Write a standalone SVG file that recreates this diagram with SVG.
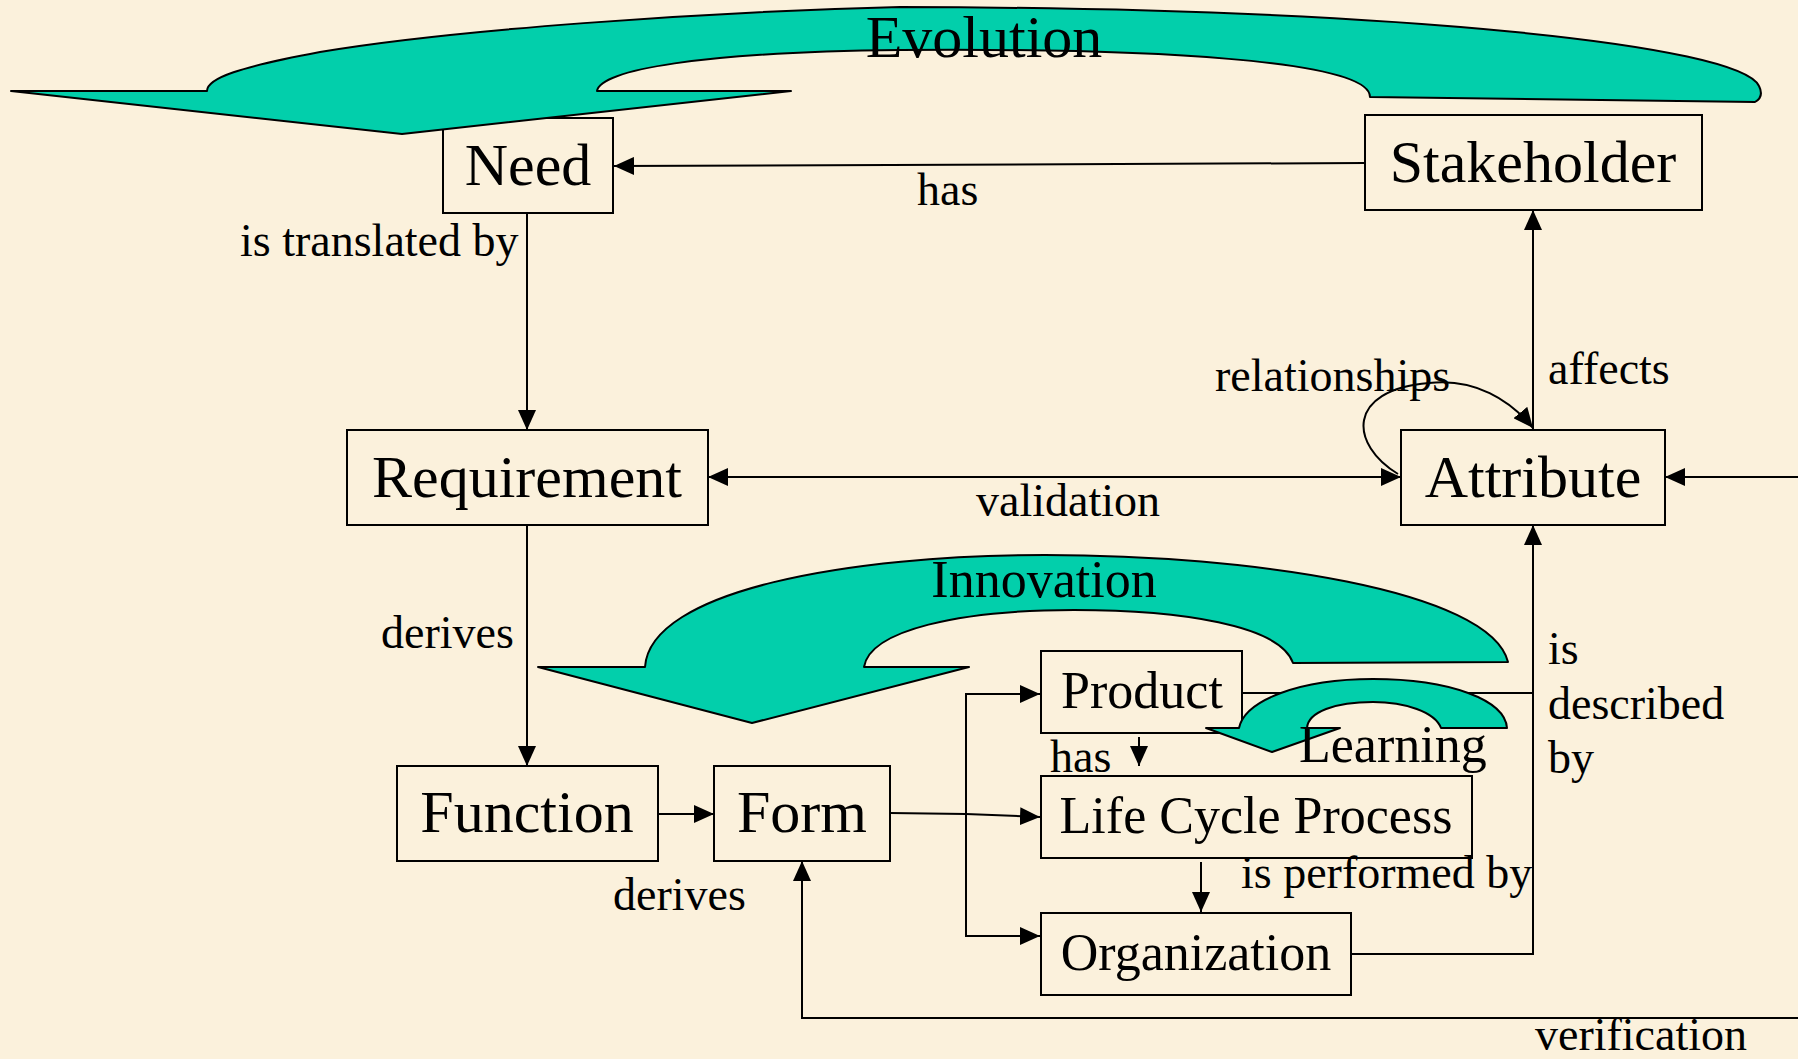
<svg xmlns="http://www.w3.org/2000/svg" width="1798" height="1059" viewBox="0 0 1798 1059">
<style>
.box{fill:none;stroke:#000;stroke-width:2}
.big{font-family:"Liberation Serif","Times New Roman",serif;font-size:60px;fill:#000;text-anchor:middle}
.mid{font-family:"Liberation Serif","Times New Roman",serif;font-size:52px;fill:#000;text-anchor:middle}
.midl{font-family:"Liberation Serif","Times New Roman",serif;font-size:52px;fill:#000;text-anchor:start}
.lbl{font-family:"Liberation Serif","Times New Roman",serif;font-size:46px;fill:#000}
.ln{fill:none;stroke:#000;stroke-width:2}
.arr{marker-end:url(#ah)}
.teal{fill:#02CFAB;stroke:#000;stroke-width:2;stroke-linejoin:round}
</style>
<defs>
<marker id="ah" markerUnits="userSpaceOnUse" markerWidth="20" markerHeight="18" refX="20" refY="9" orient="auto-start-reverse">
<path d="M0,0 L20,9 L0,18 Z" fill="#000"/>
</marker>
</defs>
<rect x="0" y="0" width="1798" height="1059" fill="#FBF1DC"/>

<g id="connectors">
<path class="ln arr" d="M1365,163 L614,166"/>
<path class="ln arr" d="M527,213 L527,430"/>
<path class="ln arr" d="M708,477 L1401,477" marker-start="url(#ah)"/>
<path class="ln arr" d="M1533,430 L1533,210"/>
<path class="ln arr" d="M1398,474 C1350,445 1345,390 1429,383 C1475,378 1510,400 1533,428"/>
<path class="ln arr" d="M527,525 L527,766"/>
<path class="ln arr" d="M658,814 L714,814"/>
<path class="ln arr" d="M890,813 L966,814 L1040,817"/>
<path class="ln arr" d="M1040,694 L966,694 L966,936 L1040,936" marker-start="url(#ah)"/>
<path class="ln arr" d="M1139,737 L1139,766"/>
<path class="ln arr" d="M1201,862 L1201,912"/>
<path class="ln" d="M1242,693 L1533,693"/>
<path class="ln arr" d="M1351,954 L1533,954 L1533,525"/>
<path class="ln arr" d="M1798,1018 L802,1018 L802,861"/>
<path class="ln arr" d="M1798,477 L1665,477"/>
<text class="lbl" x="917" y="205">has</text>
<text class="lbl" x="240" y="256">is translated by</text>
<text class="lbl" x="976" y="516">validation</text>
<text class="lbl" x="1215" y="391">relationships</text>
<text class="lbl" x="1548" y="384">affects</text>
<text class="lbl" x="381" y="648">derives</text>
<text class="lbl" x="613" y="910">derives</text>
<text class="lbl" x="1050" y="772">has</text>
<text class="lbl" x="1241" y="888">is performed by</text>
<text class="lbl" x="1548" y="664">is</text>
<text class="lbl" x="1548" y="719">described</text>
<text class="lbl" x="1548" y="773">by</text>
<text class="lbl" x="1535" y="1050">verification</text>
</g>

<g id="need"><rect class="box" x="443" y="118" width="170" height="95"/><text class="big" x="528" y="185">Need</text></g>
<g id="stakeholder"><rect class="box" x="1365" y="115" width="337" height="95"/><text class="big" x="1533" y="182">Stakeholder</text></g>
<g id="requirement"><rect class="box" x="347" y="430" width="361" height="95"/><text class="big" x="527" y="497">Requirement</text></g>
<g id="attribute"><rect class="box" x="1401" y="430" width="264" height="95"/><text class="big" x="1533" y="497">Attribute</text></g>
<g id="function"><rect class="box" x="397" y="766" width="261" height="95"/><text class="big" x="527" y="832">Function</text></g>
<g id="form"><rect class="box" x="714" y="766" width="176" height="95"/><text class="big" x="802" y="832">Form</text></g>
<g id="product"><rect class="box" x="1041" y="651" width="201" height="82"/><text class="mid" x="1142" y="708">Product</text></g>
<g id="lifecycle"><rect class="box" x="1041" y="776" width="431" height="82"/><text class="mid" x="1256" y="833">Life Cycle Process</text></g>
<g id="organization"><rect class="box" x="1041" y="913" width="310" height="82"/><text class="mid" x="1196" y="970">Organization</text></g>

<g id="evolution">
<path class="teal" d="M1370,97 L1755,102 C1762,98 1762,92 1759,86 C1740,45 1400,8 900,7 C700,12 450,30 320,52 C240,67 207,78 207,91 L11,91 L402,134 L791,91 L597,91 C600,70 700,52 900,50 C1150,48 1370,60 1370,97 Z"/>
<text class="big" x="984" y="57">Evolution</text>
</g>
<g id="innovation">
<path class="teal" d="M645,667 C650,590 850,555 1045,555 C1250,555 1490,590 1508,662 L1293,663 C1280,625 1180,610 1074,610 C960,610 870,630 864,667 L969,667 L752,723 L538,667 Z"/>
<text class="mid" x="1044" y="597">Innovation</text>
</g>
<g id="learning">
<path class="teal" d="M1239,728 C1245,700 1300,679 1373,679 C1450,679 1505,700 1507,728 L1441,728 C1435,712 1405,702 1373,702 C1335,702 1308,712 1307,728 L1340,728 L1272,752 L1206,728 Z"/>
<text class="midl" x="1299" y="762">Learning</text>
</g>
</svg>
